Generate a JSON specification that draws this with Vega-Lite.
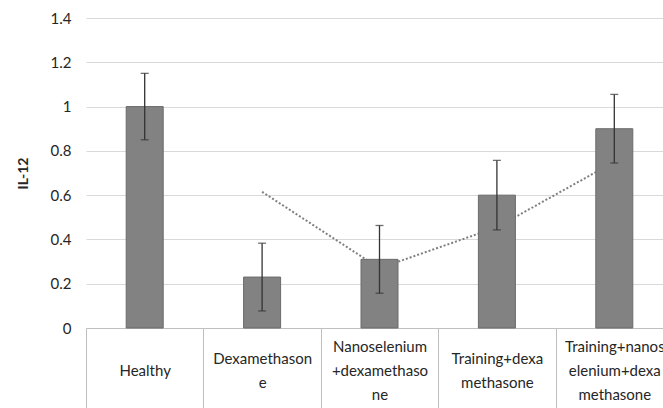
{
  "$schema": "https://vega.github.io/schema/vega-lite/v6.json",
  "width": 587,
  "height": 310,
  "autosize": {"type": "none"},
  "padding": {"left": 86, "top": 18, "right": 0, "bottom": 80},
  "background": "white",
  "config": {
    "font": "Lato",
    "view": {"stroke": null}
  },
  "data": {
    "values": [
      {"group": "Healthy", "mean": 1.0, "err": 0.15, "trend": null},
      {"group": "Dexamethasone", "mean": 0.23, "err": 0.153, "trend": 0.615},
      {"group": "Nanoselenium+dexamethasone", "mean": 0.31, "err": 0.153, "trend": 0.27},
      {"group": "Training+dexamethasone", "mean": 0.6, "err": 0.157, "trend": 0.455},
      {"group": "Training+nanoselenium+dexamethasone", "mean": 0.9, "err": 0.155, "trend": 0.75}
    ]
  },
  "encoding": {
    "x": {
      "field": "group",
      "type": "nominal",
      "sort": null,
      "scale": {
        "domain": ["Healthy", "Dexamethasone", "Nanoselenium+dexamethasone", "Training+dexamethasone", "Training+nanoselenium+dexamethasone"],
        "paddingInner": 0,
        "paddingOuter": 0
      },
      "axis": {
        "title": null,
        "labelAngle": 0,
        "labelAlign": "center",
        "labelBaseline": "middle",
        "labelFontSize": 15,
        "labelLineHeight": 24,
        "labelColor": "#262626",
        "labelPadding": {
          "condition": [
            {"test": "datum.value == 'Healthy'", "value": -38},
            {"test": "datum.value == 'Dexamethasone' || datum.value == 'Training+dexamethasone'", "value": -50}
          ],
          "value": -62
        },
        "labelExpr": "datum.value == 'Dexamethasone' ? ['Dexamethason', 'e'] : datum.value == 'Nanoselenium+dexamethasone' ? ['Nanoselenium', '+dexamethaso', 'ne'] : datum.value == 'Training+dexamethasone' ? ['Training+dexa', 'methasone'] : datum.value == 'Training+nanoselenium+dexamethasone' ? ['Training+nanos', 'elenium+dexa', 'methasone'] : datum.value",
        "domainColor": "#bfbfbf",
        "tickColor": "#bfbfbf",
        "tickSize": 80,
        "tickBand": "extent",
        "labelOverlap": false,
        "labelBound": false
      }
    }
  },
  "layer": [
    {
      "mark": {"type": "line", "color": "#7f7f7f", "strokeWidth": 2, "strokeDash": [2, 2]},
      "transform": [{"filter": "datum.trend != null"}],
      "encoding": {
        "y": {
          "field": "trend",
          "type": "quantitative",
          "title": "IL-12",
          "scale": {"domain": [0, 1.4], "nice": false},
          "axis": {
            "title": "IL-12",
            "titleFontWeight": "bold",
            "titleFontSize": 14,
            "titleColor": "#262626",
            "titlePadding": 20,
            "values": [0, 0.2, 0.4, 0.6, 0.8, 1, 1.2, 1.4],
            "format": "~g",
            "labelFontSize": 15,
            "labelColor": "#262626",
            "labelPadding": 15,
            "ticks": false,
            "domain": false,
            "grid": true,
            "gridColor": "#d9d9d9",
            "gridWidth": 1.2
          }
        }
      }
    },
    {
      "mark": {"type": "bar", "width": 37, "color": "#828282", "stroke": "#6b6b6b", "strokeWidth": 1},
      "encoding": {
        "y": {"field": "mean", "type": "quantitative", "title": "IL-12"}
      }
    },
    {
      "mark": {"type": "errorbar", "color": "#333333", "thickness": 1.3, "ticks": {"size": 8, "thickness": 1.3, "color": "#333333"}},
      "encoding": {
        "y": {"field": "mean", "type": "quantitative", "title": "IL-12"},
        "yError": {"field": "err"}
      }
    }
  ]
}
